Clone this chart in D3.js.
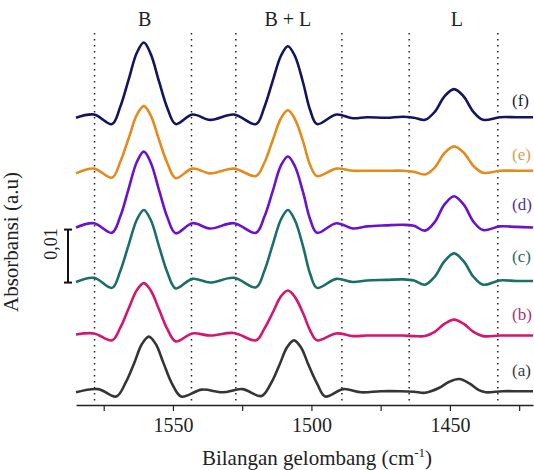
<!DOCTYPE html>
<html>
<head>
<meta charset="utf-8">
<script src="https://cdn.jsdelivr.net/npm/d3@7"></script>
<style>
  html, body { margin: 0; padding: 0; background: #fff; }
  svg { display: block; }
  svg text { font-family: 'Liberation Serif', 'DejaVu Serif', serif; }
</style>
</head>
<body>
<script>
'use strict';

// Data: wavenumber grid (cm-1) shared by spectra (b)-(f)
const wavenumbers = [1585, 1578.5, 1572, 1569, 1566, 1563, 1560.5, 1558, 1555, 1552, 1549, 1543, 1536.5, 1528,
  1520, 1517, 1514, 1511, 1508.5, 1506, 1503, 1500.5, 1498, 1491, 1485, 1480, 1473, 1467, 1463, 1459,
  1455.5, 1452, 1448.5, 1445, 1441.5, 1438, 1432, 1426, 1420];

// spectrum (a) sits a little lower in wavenumber
const wavenumbersA = [1585, 1577, 1570.5, 1567, 1564, 1561.2, 1558.7, 1556.2, 1553.4, 1550.4, 1547, 1539.6, 1532, 1525,
  1518, 1514.6, 1511.6, 1508.8, 1506.3, 1503.8, 1501, 1498, 1495, 1488.5, 1482, 1475, 1468, 1463, 1459,
  1454, 1450.2, 1446.6, 1443, 1439.5, 1437, 1431, 1425, 1420];

// absorbance (a.u), relative to each spectrum's own baseline
const absA = [-0.0001, 0.0005, -0.0009, 0.0018, 0.0054, 0.0090, 0.0104, 0.0090, 0.0054, 0.0016, -0.0009, 0.0004, -0.0001, 0.0005,
  -0.0008, 0.0016, 0.0050, 0.0084, 0.0097, 0.0084, 0.0050, 0.0016, -0.0009, 0.0005, -0.0001, 0.0001, 0.0001, 0, -0.0002,
  0.0007, 0.0019, 0.0024, 0.0016, 0.0003, -0.0001, 0.0001, 0.0001, 0.0001];
const absB = [0.0002, 0.0004, -0.0009, 0.0015, 0.0051, 0.0086, 0.0099, 0.0085, 0.0049, 0.0012, -0.0011, 0.0004, 0, 0.0005,
  -0.0009, 0.0013, 0.0043, 0.0074, 0.0085, 0.0073, 0.0042, 0.0010, -0.0009, 0.0004, -0.0001, 0, 0, 0, -0.0001, -0.0001,
  0.0007, 0.0022, 0.0030, 0.0022, 0.0007, -0.0001, 0, 0, 0];
const absC = [-0.0001, 0.0007, -0.0012, 0.0020, 0.0069, 0.0117, 0.0135, 0.0116, 0.0066, 0.0017, -0.0013, 0.0005, -0.0002, 0.0007,
  -0.0011, 0.0020, 0.0069, 0.0117, 0.0135, 0.0116, 0.0066, 0.0015, -0.0012, 0.0005, -0.0001, 0.0002, 0.0003, 0.0004, 0.0002, -0.0006,
  0.0009, 0.0038, 0.0053, 0.0038, 0.0009, -0.0006, 0.0002, 0.0001, 0.0001];
const absD = [0, 0.0008, -0.0010, 0.0021, 0.0073, 0.0124, 0.0143, 0.0122, 0.0070, 0.0019, -0.0011, 0.0008, -0.0002, 0.0008,
  -0.0010, 0.0020, 0.0068, 0.0117, 0.0134, 0.0116, 0.0066, 0.0016, -0.0010, 0.0008, -0.0002, 0.0002, 0.0004, 0.0005, 0.0003, -0.0006,
  0.0010, 0.0043, 0.0059, 0.0043, 0.0011, -0.0005, 0.0002, 0.0001, 0];
const absE = [-0.0003, 0.0006, -0.0011, 0.0019, 0.0063, 0.0108, 0.0124, 0.0106, 0.0060, 0.0016, -0.0012, 0.0006, -0.0003, 0.0006,
  -0.0008, 0.0017, 0.0059, 0.0101, 0.0116, 0.0100, 0.0057, 0.0013, -0.0008, 0.0006, 0.0002, 0.0002, 0.0002, 0.0002, 0, -0.0005,
  0.0008, 0.0035, 0.0048, 0.0036, 0.0011, -0.0002, 0.0002, 0.0002, 0.0002];
const absF = [0, 0.0006, -0.0012, 0.0021, 0.0072, 0.0123, 0.0142, 0.0120, 0.0068, 0.0018, -0.0012, 0.0006, -0.0004, 0.0006,
  -0.0012, 0.0020, 0.0069, 0.0117, 0.0135, 0.0117, 0.0066, 0.0015, -0.0012, 0.0006, -0.0001, 0.0001, 0, 0.0002, 0, -0.0004,
  0.0011, 0.0040, 0.0054, 0.0040, 0.0011, -0.0004, 0.0001, 0.0001, 0.0001];

// vertical stacking offsets (a.u)
const offsets = [0, 0.0106, 0.0208, 0.0310, 0.0415, 0.0517];
const seriesLabels = ['(a)', '(b)', '(c)', '(d)', '(e)', '(f)'];

// band markers
const bandLabels = ['B', 'B + L', 'L'];
const bandPositions = [1560.2, 1508.5, 1447.5];
const markerLines = [1578.3, 1543.3, 1527.3, 1489, 1464.7, 1432.7];

const tickValues = [1575, 1550, 1525, 1500, 1475, 1450, 1425];
const scaleBarStart = 0.0206;
const scaleBarSize = 0.01;

// Styles
const serif = "'Liberation Serif', 'DejaVu Serif', serif";
const lineColors = ['#353535', '#d3166f', '#1c6f68', '#6913cf', '#e48b1d', '#15145f'];
const labelColors = ['#3a3a3a', '#a8336e', '#2b6a66', '#5b2c98', '#d0a352', '#1c1c33'];

const width = 534;
const height = 470;
const margin = { left: 76, right: 1, bottom: 65 };

const svg = d3.select('body').append('svg')
  .attr('width', width)
  .attr('height', height)
  .attr('font-family', serif);

const x = d3.scaleLinear()
  .domain([1585, 1420])
  .range([margin.left, width - margin.right]);

const axisY = height - margin.bottom;
// 0.01 a.u. = 53 px
const y = d3.scaleLinear()
  .domain([-0.0025, 0.07])
  .range([axisY, axisY - 0.0725 * 5300]);

const series = [
  { wn: wavenumbersA, abs: absA },
  { wn: wavenumbers, abs: absB },
  { wn: wavenumbers, abs: absC },
  { wn: wavenumbers, abs: absD },
  { wn: wavenumbers, abs: absE },
  { wn: wavenumbers, abs: absF }
].map((s, i) => ({
  label: seriesLabels[i],
  points: s.wn.map((w, j) => [w, s.abs[j] + offsets[i]])
}));

// Dotted marker lines
svg.append('g')
  .selectAll('line')
  .data(markerLines)
  .enter().append('line')
  .attr('x1', d => x(d))
  .attr('x2', d => x(d))
  .attr('y1', 33)
  .attr('y2', axisY)
  .attr('stroke', '#222')
  .attr('stroke-width', 1.5)
  .attr('stroke-dasharray', '1.5,4.5');

// Spectra
const line = d3.line()
  .x(d => x(d[0]))
  .y(d => y(d[1]))
  .curve(d3.curveCatmullRom.alpha(0.5));

svg.append('g')
  .selectAll('path')
  .data(series)
  .enter().append('path')
  .attr('d', d => line(d.points))
  .attr('fill', 'none')
  .attr('stroke', (_d, i) => lineColors[i])
  .attr('stroke-width', 2.6)
  .attr('stroke-linejoin', 'round');

// Series labels
const labelY = [370, 314, 256, 204, 154, 100];
svg.append('g')
  .selectAll('text')
  .data(seriesLabels)
  .enter().append('text')
  .attr('x', 512)
  .attr('y', (_d, i) => labelY[i])
  .attr('dy', '0.35em')
  .attr('fill', (_d, i) => labelColors[i])
  .attr('font-family', serif)
  .attr('font-size', 17)
  .text(d => d);

// Band labels
svg.append('g')
  .selectAll('text')
  .data(bandLabels)
  .enter().append('text')
  .attr('x', (_d, i) => x(bandPositions[i]))
  .attr('y', 26)
  .attr('text-anchor', 'middle')
  .attr('fill', '#222')
  .attr('font-family', serif)
  .attr('font-size', 20)
  .text(d => d);

// X axis
const xAxis = d3.axisBottom(x)
  .tickValues(tickValues)
  .tickSize(6)
  .tickSizeOuter(0)
  .tickFormat(d => (d % 50 === 0 ? d : ''));

const gx = svg.append('g')
  .attr('transform', `translate(0,${axisY})`)
  .call(xAxis)
  .attr('font-family', serif)
  .attr('font-size', 20);

gx.select('.domain').attr('stroke', '#222').attr('stroke-width', 1.4);
gx.selectAll('.tick line').attr('stroke', '#222').attr('stroke-width', 1.2);
gx.selectAll('.tick text')
  .attr('y', 13)
  .attr('fill', '#222');

// Axis titles
const xTitle = svg.append('text')
  .attr('x', 317)
  .attr('y', 465)
  .attr('text-anchor', 'middle')
  .attr('fill', '#222')
  .attr('font-family', serif)
  .attr('font-size', 21);
xTitle.append('tspan').text('Bilangan gelombang (cm');
xTitle.append('tspan').attr('dy', -8).attr('font-size', 13).text('-1');
xTitle.append('tspan').attr('dy', 8).text(')');

svg.append('text')
  .attr('transform', 'translate(18,242) rotate(-90)')
  .attr('text-anchor', 'middle')
  .attr('fill', '#222')
  .attr('font-family', serif)
  .attr('font-size', 21)
  .text('Absorbansi (a.u)');

// Scale bar
const barX = 68;
const bar = svg.append('g').attr('stroke', '#111').attr('stroke-width', 2);
bar.append('line')
  .attr('x1', barX).attr('x2', barX)
  .attr('y1', y(scaleBarStart)).attr('y2', y(scaleBarStart + scaleBarSize));
bar.selectAll('.cap')
  .data([scaleBarStart, scaleBarStart + scaleBarSize])
  .enter().append('line')
  .attr('x1', barX - 4).attr('x2', barX + 4)
  .attr('y1', d => y(d)).attr('y2', d => y(d));

svg.append('text')
  .attr('transform', `translate(57,${y(scaleBarStart + scaleBarSize / 2) - 12}) rotate(-90)`)
  .attr('text-anchor', 'middle')
  .attr('fill', '#222')
  .attr('font-family', serif)
  .attr('font-size', 18)
  .text('0,01');
</script>
</body>
</html>
